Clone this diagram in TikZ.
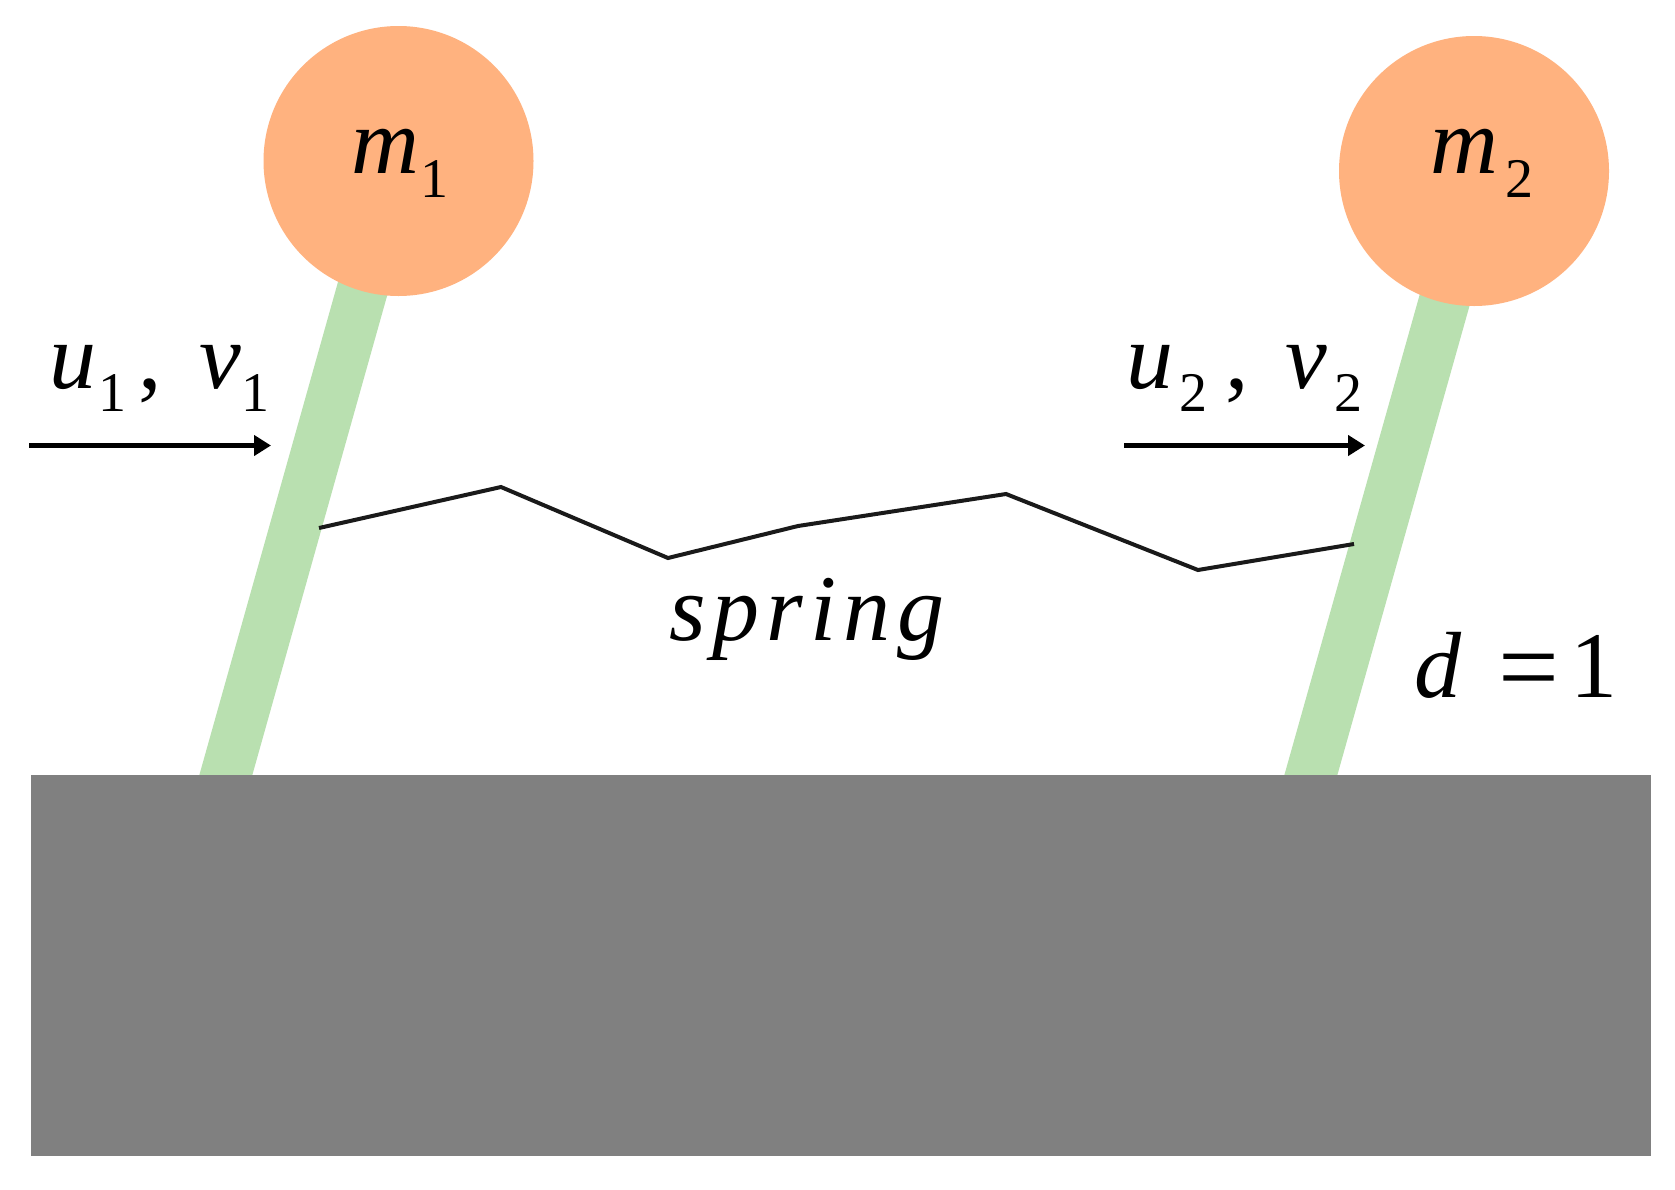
\documentclass[tikz,border=0pt]{standalone}
\usepackage{fontspec}
\setmainfont{Liberation Serif}
\usetikzlibrary{arrows.meta}
\definecolor{massc}{HTML}{FFB27F}
\definecolor{rodc}{HTML}{B9E0B0}
\definecolor{groundc}{HTML}{808080}
\definecolor{springc}{HTML}{1A1A1A}
\tikzset{
  x=1pt,y=-1pt,
  mass/.style={circle,fill=massc,draw=none,minimum size=270pt,inner sep=0pt},
  rod/.style={rodc,line width=51pt},
  spr/.style={springc,line width=4pt,line join=miter},
  push/.style={black,line width=5pt,-{Triangle[length=17pt,width=20pt]}},
  big/.style={anchor=base west,inner sep=0pt,outer sep=0pt,font=\fontsize{94}{100}\selectfont\itshape},
  bigup/.style={anchor=base west,inner sep=0pt,outer sep=0pt,font=\fontsize{94}{100}\selectfont},
  small/.style={anchor=base west,inner sep=0pt,outer sep=0pt,font=\fontsize{56}{62}\selectfont},
}
\begin{document}
\begin{tikzpicture}
\useasboundingbox (0,0) rectangle (1675,1189);
\fill[white] (0,0) rectangle (1675,1189);
\coordinate (c1) at (398.5,161);
\coordinate (c2) at (1474,171);
\coordinate (t1) at (398.5,161);
\coordinate (t2) at (1481,171);
\coordinate (f1) at (216,810);
\coordinate (f2) at (1301,810);
\draw[rod] (t1) -- (f1);
\draw[rod] (t2) -- (f2);
\node[fill=groundc,draw=none,minimum width=1620pt,minimum height=381pt,inner sep=0pt,anchor=north west] (ground) at (31,774.5) {};
\node[mass] (m1) at (c1) {};
\node[mass] (m2) at (c2) {};
\node[big] (lm1) at (351,173) {m};
\node[small] (sm1) at (420,197) {1};
\node[big] (lm2) at (1430,173) {m};
\node[small] (sm2) at (1505,197) {2};
\node[big] (lu1) at (49,388) {u};
\node[small] (su1) at (98,411) {1};
\node[bigup] (cm1) at (138,388) {,};
\node[big] (lv1) at (199,388) {v};
\node[small] (sv1) at (241,411) {1};
\node[big] (lu2) at (1126,388) {u};
\node[small] (su2) at (1179,411) {2};
\node[bigup] (cm2) at (1225,388) {,};
\node[big] (lv2) at (1285,388) {v};
\node[small] (sv2) at (1334,411) {2};
\coordinate (a1s) at (29,445.5);
\coordinate (a1e) at (271,445.5);
\coordinate (a2s) at (1124,445.5);
\coordinate (a2e) at (1365,445.5);
\draw[push] (a1s) -- (a1e);
\draw[push] (a2s) -- (a2e);
\coordinate (s0) at (319,528);
\coordinate (s1) at (501,487);
\coordinate (s2) at (668,558);
\coordinate (s3) at (798,526);
\coordinate (s4) at (1006,494);
\coordinate (s5) at (1198,570);
\coordinate (s6) at (1354,544);
\draw[spr] (s0) -- (s1) -- (s2) -- (s3) -- (s4) -- (s5) -- (s6);
\node[big] (lspring) at (669,640) {s\kern7pt p\kern7pt r\kern7pt i\kern7pt n\kern7pt g};
\node[big] (ld) at (1414,697) {d};
\node[bigup,font=\fontsize{108}{114}\selectfont] (leq) at (1498,703) {=};
\node[bigup] (lone) at (1570,697) {1};
\end{tikzpicture}
\end{document}
